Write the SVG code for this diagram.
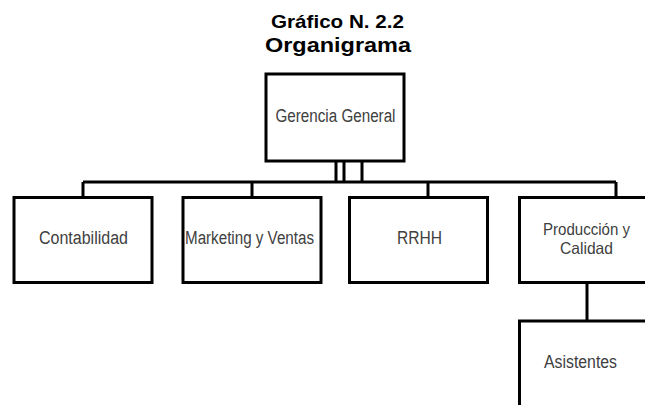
<svg xmlns="http://www.w3.org/2000/svg" width="645" height="405" viewBox="0 0 645 405">
<style>
.box{fill:#ffffff;stroke:#000000;stroke-width:3}
.con{fill:none;stroke:#000000;stroke-width:3}
.lbl{font-family:"Liberation Sans",Arial,sans-serif;font-size:18px;fill:#404040;text-anchor:middle}
.sm{font-size:16.5px}
.ttl{font-family:"Liberation Sans",Arial,sans-serif;font-weight:bold;fill:#000000;text-anchor:middle}
</style>
<rect x="0" y="0" width="645" height="405" fill="#ffffff"/>
<g id="title">
<text class="ttl" x="337.5" y="28" font-size="19" textLength="133" lengthAdjust="spacingAndGlyphs">Gráfico N. 2.2</text>
<text class="ttl" x="338" y="52" font-size="21" textLength="146" lengthAdjust="spacingAndGlyphs">Organigrama</text>
</g>
<g id="connectors">
<path class="con" d="M83 182H616"/>
<path class="con" d="M83 182V197.5M252 182V197.5M428 182V197.5M616 182V197.5"/>
<path class="con" d="M336 161V182M344 161V182M362 161V182"/>
<path class="con" d="M587 282.5V321"/>
</g>
<g id="gerencia">
<rect class="box" x="266" y="74" width="138" height="87"/>
<text class="lbl" x="335.5" y="122" textLength="120" lengthAdjust="spacingAndGlyphs">Gerencia General</text>
</g>
<g id="contabilidad">
<rect class="box" x="14" y="197.5" width="138" height="85"/>
<text class="lbl" x="83.5" y="244" textLength="89" lengthAdjust="spacingAndGlyphs">Contabilidad</text>
</g>
<g id="marketing">
<rect class="box" x="183" y="197.5" width="138" height="85"/>
<text class="lbl" x="249.5" y="244" textLength="129" lengthAdjust="spacingAndGlyphs">Marketing y Ventas</text>
</g>
<g id="rrhh">
<rect class="box" x="349.5" y="197.5" width="138" height="85"/>
<text class="lbl" x="419.5" y="244" textLength="45" lengthAdjust="spacingAndGlyphs">RRHH</text>
</g>
<g id="produccion">
<rect class="box" x="519.5" y="197.5" width="138" height="85"/>
<text class="lbl sm" x="586.5" y="234.5" textLength="87" lengthAdjust="spacingAndGlyphs">Producción y</text>
<text class="lbl sm" x="586.5" y="253.5" textLength="53" lengthAdjust="spacingAndGlyphs">Calidad</text>
</g>
<g id="asistentes">
<rect class="box" x="519.5" y="321" width="138" height="90"/>
<text class="lbl" x="580.5" y="368" textLength="73" lengthAdjust="spacingAndGlyphs">Asistentes</text>
</g>
</svg>
